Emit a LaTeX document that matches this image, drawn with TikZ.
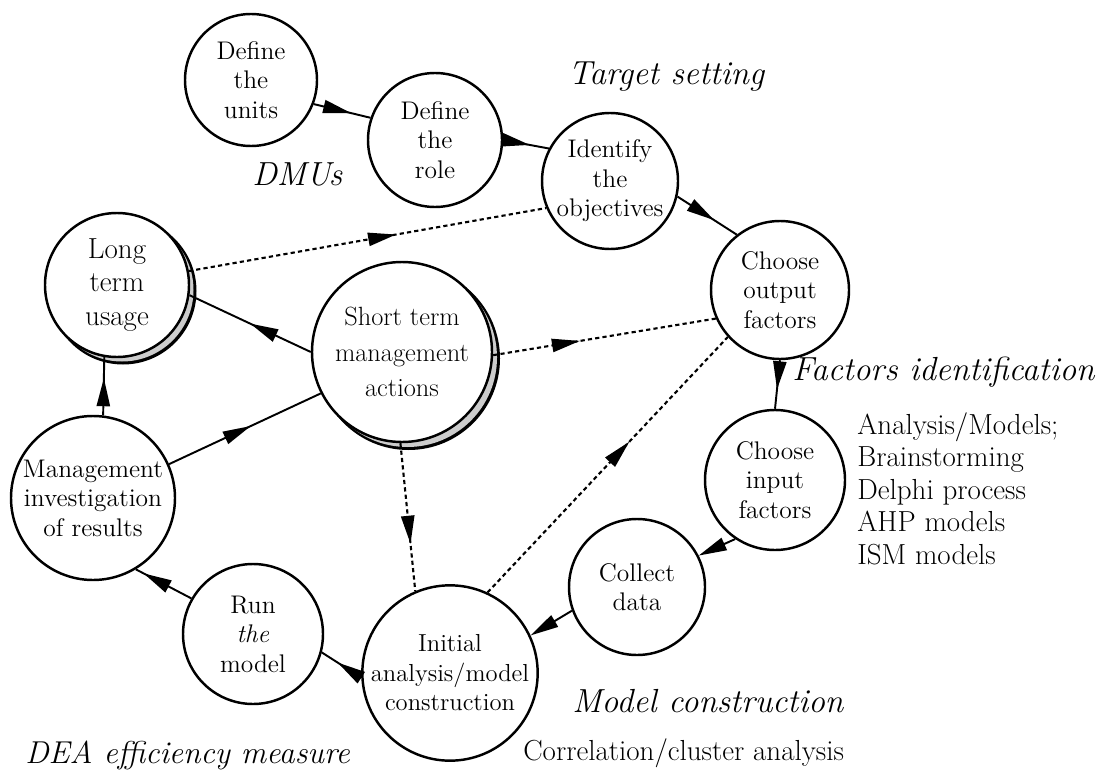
\documentclass[tikz,border=0pt]{standalone}
\usepackage{fontspec}
\usetikzlibrary{arrows.meta}
\usetikzlibrary{decorations.markings}

\begin{document}
\begin{tikzpicture}[
  stage/.style={circle, draw, line width=1.4pt, fill=white, inner sep=0pt, align=center, font=\fontsize{14.5}{16.8}\selectfont},
  link/.style={line width=1.1pt},
  dotlink/.style={line width=1.2pt, dash pattern=on 2.4pt off 1.8pt},
  midarrow/.style={decoration={markings, mark=at position #1 with {\arrow{Triangle[length=16pt,width=7.5pt]}}}, postaction={decorate}},
  endarrow/.style={-{Triangle[length=16pt,width=7.5pt]}},
  phase/.style={font=\fontsize{19}{22}\selectfont\itshape, inner sep=0pt},
  method/.style={font=\fontsize{16.5}{18.5}\selectfont, inner sep=0pt, align=left}
]
\useasboundingbox (0,0) rectangle (22.32,15.46);

% shadows
\fill[black] (2.46,9.64) circle (1.47);
\fill[gray!40] (2.44,9.66) circle (1.43);
\fill[black] (8.17,8.29) circle (1.83);
\fill[gray!40] (8.15,8.31) circle (1.79);

% Target setting
\node[stage, minimum size=2.64cm] (units) at (5.02,13.86) {Define\\the\\units};
\node[stage, minimum size=2.68cm] (role) at (8.70,12.66) {Define\\the\\role};
\node[stage, minimum size=2.72cm] (obj) at (12.20,11.84) {Identify\\the\\objectives};

% Factors identification
\node[stage, minimum size=2.76cm] (out) at (15.60,9.66) {Choose\\output\\factors};
\node[stage, minimum size=2.80cm] (in) at (15.50,5.86) {Choose\\input\\factors};

% Model construction
\node[stage, minimum size=2.72cm] (col) at (12.74,3.72) {Collect\\data};
\node[stage, minimum size=3.32cm, font=\fontsize{14}{16.8}\selectfont] (init) at (9.00,2.00) {Initial\\analysis/model\\construction};

% DEA efficiency measure
\node[stage, minimum size=2.80cm] (run) at (5.06,2.78) {Run\\\textit{the}\\model};
\node[stage, minimum size=3.28cm] (mgmt) at (1.86,5.50) {Management\\investigation\\of results};
\node[stage, minimum size=2.88cm, font=\fontsize{16.5}{19}\selectfont] (long) at (2.34,9.76) {Long\\term\\usage};
\node[stage, minimum size=3.60cm, font=\fontsize{15}{20}\selectfont] (short) at (8.04,8.42) {Short term\\management\\actions};

% labels
\node[phase, anchor=base west] (target) at (11.36,13.76) {Target setting};
\node[phase, anchor=base west] (dmus) at (5.04,11.76) {DMUs};
\node[phase, anchor=base west] (factors) at (15.84,7.86) {Factors identification};
\node[method, anchor=north west] (tools) at (17.14,7.22) {Analysis/Models;\\Brainstorming\\Delphi process\\AHP models\\ISM models};
\node[phase, anchor=base west] (modelc) at (11.44,1.22) {Model construction};
\node[method, anchor=base west] (corr) at (10.46,0.26) {Correlation/cluster analysis};
\node[phase, anchor=base west, font=\fontsize{18}{22}\selectfont\itshape] (dea) at (0.50,0.20) {DEA efficiency measure};

% main cycle
\draw[link, midarrow=0.66] (units.-21) -- (role.161);
\draw[link, midarrow=0.58] (role.0) -- (obj.152);
\draw[link, midarrow=0.62] (obj.-13) -- (out.128);
\draw[link, midarrow=0.6] (out.south) -- (in.north);
\draw[link, endarrow] (in.236) -- (col.27);
\draw[link, endarrow] (col.200) -- (init.25);
\draw[link, midarrow=0.6] (init.183) -- (run.-15);
\draw[link, midarrow=0.86] (run.150) -- (mgmt.-59);
\draw[link, midarrow=0.64] (mgmt.83) -- (long.-100);
\draw[link, midarrow=0.54] (mgmt.24) -- (short.207);
\draw[link, midarrow=0.5] (short.180) -- (long.-8);

% feedback
\draw[dotlink, midarrow=0.58] (long.11) -- (obj.203);
\draw[dotlink, midarrow=0.39] (short.-2) -- (out.204);
\draw[dotlink, midarrow=0.68] (short.-91) -- (init.113);
\draw[dotlink, midarrow=0.59] (init.65) -- (out.222);

\end{tikzpicture}
\end{document}
